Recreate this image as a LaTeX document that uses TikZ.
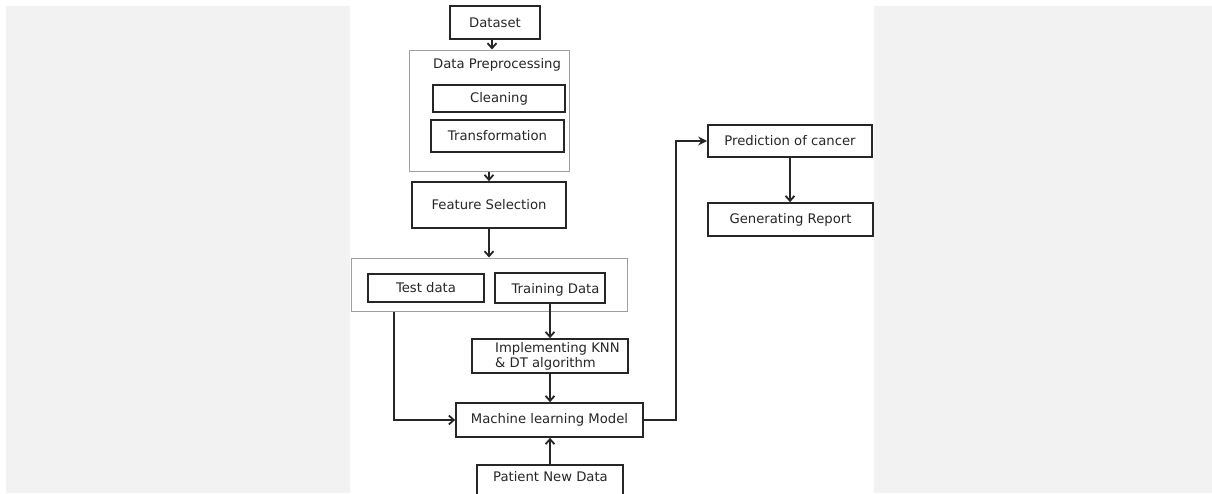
\documentclass[tikz,border=0pt]{standalone}
\usepackage{fontspec}
\setmainfont{DejaVu Sans}
\usetikzlibrary{arrows.meta}
\definecolor{panel}{HTML}{F2F2F2}
\begin{document}
\begin{tikzpicture}[x=1pt,y=-1pt,
  txt/.style={font=\fontsize{13.2}{15}\selectfont,text=black!85},
  box/.style={draw=black!85,line width=1.7pt,inner sep=0pt,txt},
  group/.style={draw=gray!75,line width=1pt,inner sep=0pt},
  conn/.style={draw=black!85,line width=1.8pt,-{Straight Barb[length=5pt,width=9pt]}},
  connf/.style={draw=black!85,line width=1.8pt,-{Stealth[length=9pt,width=9pt]}}]
\useasboundingbox (0,0) rectangle (1212,493);
\fill[panel] (6,6) rectangle (350,493);
\fill[panel] (874,6) rectangle (1212,493);
% nodes
\node[box,minimum width=90pt,minimum height=33pt] (dataset) at (495,22.5) {Dataset};
\node[group,minimum width=160pt,minimum height=121pt] (pre) at (489,110.5) {};
\node[txt] (pretitle) at (497,65) {Data Preprocessing};
\node[box,minimum width=132pt,minimum height=27pt] (clean) at (499,98.5) {Cleaning};
\node[box,minimum width=133pt,minimum height=32pt] (trans) at (497.5,136) {Transformation};
\node[box,minimum width=154pt,minimum height=46pt] (fs) at (489,205) {Feature Selection};
\node[group,minimum width=276pt,minimum height=53pt] (split) at (489,284.5) {};
\node[box,minimum width=116pt,minimum height=28pt] (test) at (426,288) {Test data};
\node[box,minimum width=110pt,minimum height=30pt] (train) at (550,288) {};
\node[txt] (traintxt) at (555.5,290) {Training Data};
\node[box,minimum width=156pt,minimum height=34pt] (impl) at (550,356) {};
\node[txt,anchor=west,align=left,inner sep=0pt] (impltxt) at (495,356) {Implementing KNN\\\& DT algorithm};
\node[box,minimum width=187pt,minimum height=34pt] (ml) at (549.5,420) {Machine learning Model};
\node[box,minimum width=146pt,minimum height=36pt] (patient) at (550,483) {};
\node[txt] (patienttxt) at (550.5,477) {Patient New Data};
\node[box,minimum width=164pt,minimum height=32pt] (pred) at (790,141) {Prediction of cancer};
\node[box,minimum width=165pt,minimum height=33pt] (gen) at (790.5,219.5) {Generating Report};
% connectors
\draw[conn] ([xshift=-3pt]dataset.south) -- ([xshift=-3pt]dataset.south |- pre.north);
\draw[conn] (pre.south) -- (pre.south |- fs.north);
\draw[conn] (fs.south) -- (fs.south |- split.north);
\draw[conn] ([xshift=-32pt]test.south |- split.south) |- (ml.west);
\draw[conn] (train.south) -- (train.south |- impl.north);
\draw[conn] (impl.south) -- (impl.south |- ml.north);
\draw[conn] (patient.north) -- (patient.north |- ml.south);
\draw[connf] (ml.east) -- ++(32,0) |- (pred.west);
\draw[conn] (pred.south) -- (pred.south |- gen.north);
\end{tikzpicture}
\end{document}
